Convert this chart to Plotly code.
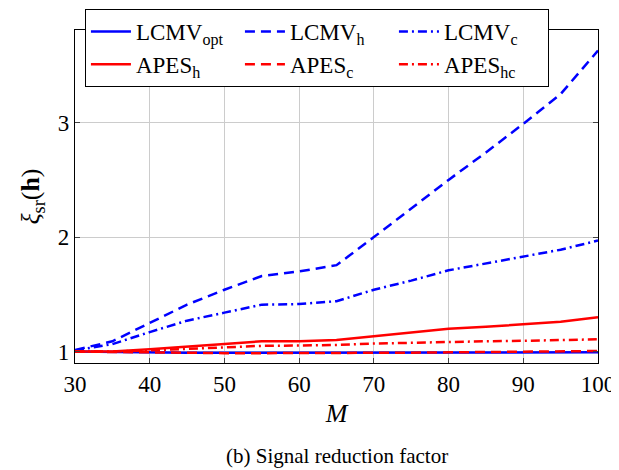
import plotly.graph_objects as go

M = [30, 35, 40, 45, 50, 55, 60, 65, 70, 75, 80, 85, 90, 95, 100]

lcmv_opt = [1.00, 0.995, 0.99, 0.99, 0.99, 0.99, 0.99, 0.99, 0.99, 0.99, 0.99, 0.99, 0.99, 0.99, 0.993]
lcmv_h = [1.013, 1.09, 1.25, 1.41, 1.54, 1.66, 1.70, 1.755, 2.00, 2.25, 2.50, 2.74, 2.99, 3.25, 3.63]
lcmv_c = [1.01, 1.065, 1.17, 1.27, 1.34, 1.41, 1.415, 1.44, 1.54, 1.62, 1.71, 1.77, 1.83, 1.89, 1.97]
apes_h = [1.00, 1.00, 1.02, 1.04, 1.065, 1.09, 1.09, 1.10, 1.135, 1.17, 1.20, 1.217, 1.24, 1.26, 1.30]
apes_c = [1.00, 0.995, 0.99, 0.988, 0.986, 0.986, 0.986, 0.986, 0.988, 0.99, 0.993, 0.996, 0.999, 1.002, 1.005]
apes_hc = [1.00, 1.00, 1.01, 1.025, 1.04, 1.05, 1.053, 1.058, 1.07, 1.078, 1.085, 1.09, 1.094, 1.10, 1.107]

series = [
    ("LCMV<sub>opt</sub>", lcmv_opt, "blue", "solid"),
    ("LCMV<sub>h</sub>", lcmv_h, "blue", "10px,6px"),
    ("LCMV<sub>c</sub>", lcmv_c, "blue", "9px,4px,2px,4px"),
    ("APES<sub>h</sub>", apes_h, "red", "solid"),
    ("APES<sub>c</sub>", apes_c, "red", "10px,6px"),
    ("APES<sub>hc</sub>", apes_hc, "red", "9px,4px,2px,4px"),
]

x_ticks = [30, 40, 50, 60, 70, 80, 90, 100]
y_ticks = [1, 2, 3]

fig = go.Figure()
for name, vals, color, dash in series:
    fig.add_trace(go.Scatter(x=M, y=vals, mode="lines", name=name,
                             line=dict(color=color, width=2.5, dash=dash)))

FONT = "Liberation Serif, Times New Roman, serif"
TF = dict(family=FONT, size=23, color="black")
fig.update_layout(
    width=611, height=462,
    margin=dict(l=67, r=21, t=22, b=107, autoexpand=False),
    paper_bgcolor="white", plot_bgcolor="white",
    font=TF,
    showlegend=True,
    legend=dict(orientation="h", x=0.019, y=1.063, xanchor="left", yanchor="top",
                bgcolor="white", bordercolor="black", borderwidth=1,
                entrywidth=99, font=dict(family=FONT, size=23, color="black"),
                tracegroupgap=0, itemwidth=40),
    annotations=[dict(text="(b) Signal reduction factor", xref="paper", yref="paper",
                      x=0.5, y=-0.28, xanchor="center", yanchor="middle",
                      showarrow=False, font=dict(family=FONT, size=21, color="black"))],
)
fig.update_xaxes(range=[30, 100], tickvals=x_ticks, showgrid=True, gridcolor="#cccccc",
                 gridwidth=1, showline=True, linecolor="black", linewidth=1.2, mirror="ticks",
                 ticks="inside", ticklen=5, tickcolor="#444", zeroline=False, automargin=False,
                 tickfont=TF,
                 title=dict(text="<i>M</i>", standoff=8, font=dict(family=FONT, size=26, color="black")))
fig.update_yaxes(range=[0.9, 3.81], tickvals=y_ticks, showgrid=True, gridcolor="#cccccc",
                 gridwidth=1, showline=True, linecolor="black", linewidth=1.2, mirror="ticks",
                 ticks="inside", ticklen=5, tickcolor="#444", zeroline=False, automargin=False,
                 tickfont=TF,
                 title=dict(text="<i>ξ</i><sub>sr</sub>(<b>h</b>)", standoff=10,
                            font=dict(family=FONT, size=26, color="black")))

fig.write_html("out.html")
